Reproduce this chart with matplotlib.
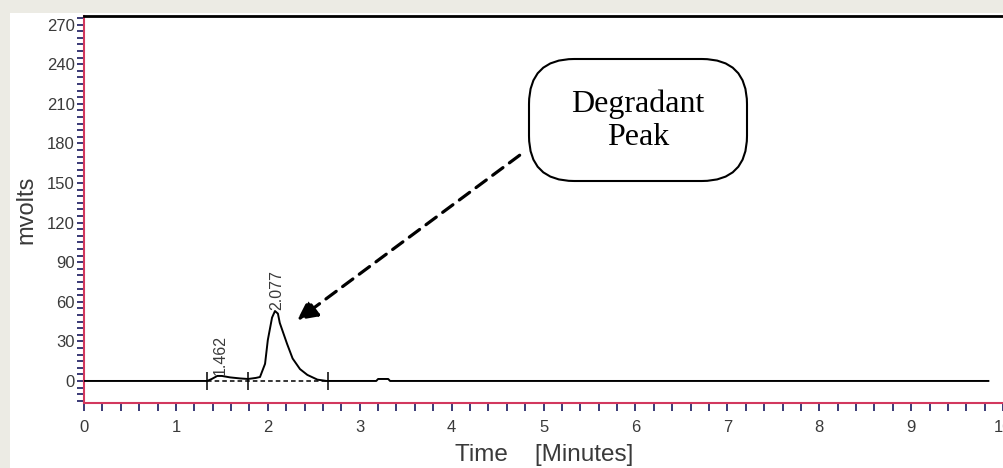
"""Chromatogram with a degradant peak callout."""

import matplotlib

matplotlib.use("Agg")
import matplotlib.pyplot as plt
from matplotlib.patches import FancyBboxPatch, Rectangle

# --- data -----------------------------------------------------------------------
time_min = [0.00, 1.34, 1.39, 1.45, 1.50, 1.59, 1.70, 1.785, 1.87, 1.915, 1.97,
            2.00, 2.046, 2.078, 2.11, 2.13, 2.21, 2.27, 2.35, 2.43, 2.54, 2.64,
            3.18, 3.20, 3.31, 3.33, 9.84]
signal_mv = [0.0, 0.0, 1.5, 3.8, 3.8, 2.7, 1.9, 1.5, 2.3, 3.0, 13.0,
             31.0, 48.0, 53.0, 51.0, 44.0, 28.0, 17.0, 9.0, 4.6, 1.0, 0.0,
             0.0, 1.5, 1.5, 0.0, 0.0]

peak_times = [1.462, 2.077]
peak_heights = [3.8, 53.0]
peak_labels = ["1.462", "2.077"]

integration_marks = [1.34, 1.78, 2.65]  # start/stop ticks on the baseline
baseline_span = [1.34, 2.65]

x_major = list(range(0, 11))
y_major = list(range(0, 271, 30))

# --- style ----------------------------------------------------------------------
FRAME = "#ecebe4"
TICK = "#2b2b6b"
SPINE = "#d2385e"
LABEL = "#3a3a3a"
SANS = "Liberation Sans"

fig = plt.figure(figsize=(10.04, 4.68), dpi=100, facecolor=FRAME)
fig.add_artist(Rectangle((10 / 1004, 0), 994 / 1004, 455 / 468,
                         transform=fig.transFigure, facecolor="white",
                         edgecolor="none", zorder=0))

ax = fig.add_axes([84 / 1004, 65 / 468, 920 / 1004, 387 / 468])
ax.set_facecolor("white")
ax.set_xlim(0, 10.01)
ax.set_ylim(-16.7, 276.5)

ax.plot(time_min, signal_mv, color="black", lw=1.4, zorder=3)
ax.plot(baseline_span, [0, 0], color="black", lw=1.1, ls=(0, (3, 2)), zorder=2)
ax.vlines(integration_marks, -7, 7, color="black", lw=1.1, zorder=3)

for t, h, lab in zip(peak_times, peak_heights, peak_labels):
    ax.text(t + 0.02, h + 1.0, lab, rotation=90, ha="center", va="bottom",
            fontsize=11.5, color=LABEL, family=SANS)

# axes dressing
ax.spines["right"].set_visible(False)
ax.spines["top"].set_color("black")
ax.spines["top"].set_linewidth(2)
ax.spines["left"].set_color(SPINE)
ax.spines["left"].set_linewidth(1.5)
ax.spines["bottom"].set_color(SPINE)
ax.spines["bottom"].set_linewidth(1.5)

ax.set_xticks(x_major)
ax.set_xticks([i / 5 for i in range(0, 51)], minor=True)
ax.set_yticks(y_major)
ax.set_yticks(list(range(-15, 276, 5)), minor=True)
ax.tick_params(which="both", direction="out", color=TICK, width=1.3,
               labelcolor=LABEL, labelsize=12)
ax.tick_params(axis="x", which="both", length=6, pad=6)
ax.tick_params(axis="y", which="both", length=5, pad=1.5)
for lab in ax.get_xticklabels() + ax.get_yticklabels():
    lab.set_family(SANS)

ax.set_xlabel("Time    [Minutes]", fontsize=17.5, color=LABEL,
              family=SANS, labelpad=7)
ax.set_ylabel("mvolts", fontsize=17, color=LABEL,
              family=SANS, labelpad=7)

# callout box and dashed arrow
box = FancyBboxPatch((529 / 1004, (468 - 181) / 468), 218 / 1004, 122 / 468,
                     boxstyle="round,pad=0,rounding_size=0.045",
                     transform=fig.transFigure, facecolor="white",
                     edgecolor="black", lw=1.5, zorder=5,
                     mutation_aspect=1004 / 468)
fig.add_artist(box)
fig.text(638 / 1004, (468 - 121) / 468, "Degradant\nPeak", ha="center",
         va="center", fontsize=23, family="Liberation Serif",
         linespacing=1.2, zorder=6)

ax.annotate("", xy=(2.32, 46), xytext=(4.74, 171),
            arrowprops=dict(arrowstyle="-|>", color="black", lw=2.3,
                            linestyle=(0, (4, 2.5)), mutation_scale=30,
                            shrinkA=0, shrinkB=0))

fig.savefig("out.png", dpi=100, facecolor=FRAME)
